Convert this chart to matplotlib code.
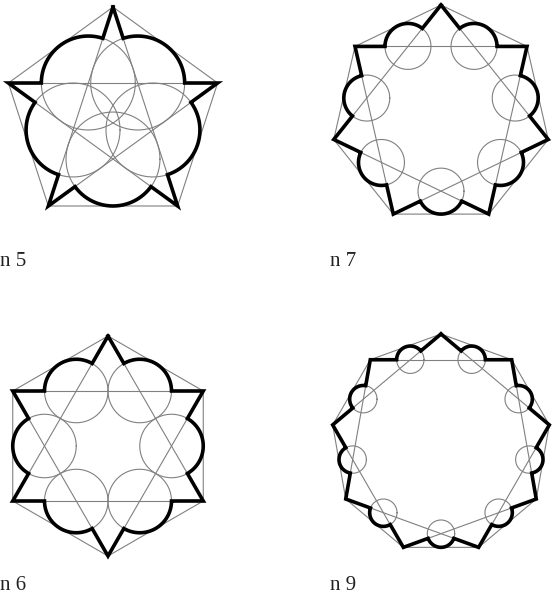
import numpy as np
import matplotlib
matplotlib.use("Agg")
import matplotlib.pyplot as plt

# panel data
N_VALUES = [5, 7, 6, 9]
LABELS = ["n 5", "n 7", "n 6", "n 9"]
CENTERS = [(113, 117), (441, 115), (108, 446), (441, 444)]
LABEL_POS = [(0, 262), (330, 262), (0, 585), (330, 585)]
RADIUS = 110

THIN = dict(color="#808080", lw=0.8)
BOLD = dict(color="black", lw=2.6, solid_joinstyle="miter")


def pt(r, deg):
    a = np.radians(deg)
    return np.array([r * np.cos(a), r * np.sin(a)])


def draw_figure(ax, n, cx, cy, R):
    def tr(p):
        p = np.asarray(p)
        return cx + p[..., 0], cy - p[..., 1]

    V = [pt(R, 90 + 360 * k / n) for k in range(n)]
    r_in = R * np.cos(2 * np.pi / n) / np.cos(np.pi / n)
    rho = R * np.cos(np.pi / n) - r_in
    C = [pt(r_in, 90 + 360 * (k + 0.5) / n) for k in range(n)]

    # outer polygon
    poly = np.array(V + [V[0]])
    ax.plot(*tr(poly), **THIN)
    # star chords
    for k in range(n):
        seg = np.array([V[k], V[(k + 2) % n]])
        ax.plot(*tr(seg), **THIN)
    # circles
    t = np.linspace(0, 2 * np.pi, 200)
    for c in C:
        circ = np.stack([c[0] + rho * np.cos(t), c[1] + rho * np.sin(t)], axis=1)
        ax.plot(*tr(circ), **THIN)

    # bold outline
    path = []
    for k in range(n):
        c = C[k]
        va, vb = V[k], V[(k + 1) % n]
        ua = (va - c) / np.linalg.norm(va - c)
        ub = (vb - c) / np.linalg.norm(vb - c)
        a1 = np.arctan2(ua[1], ua[0])
        a2 = np.arctan2(ub[1], ub[0])
        phi = np.arctan2(c[1], c[0])
        d = (a2 - a1) % (2 * np.pi)
        if (phi - a1) % (2 * np.pi) >= d:
            d = d - 2 * np.pi
        aa = a1 + np.linspace(0, d, 80)
        path.append(va)
        for a in aa:
            path.append(c + rho * np.array([np.cos(a), np.sin(a)]))
    path.append(V[0])
    ax.plot(*tr(np.array(path)), **BOLD)


fig = plt.figure(figsize=(5.55, 5.96), dpi=100)
ax = fig.add_axes([0, 0, 1, 1])
ax.set_xlim(0, 555)
ax.set_ylim(596, 0)
ax.axis("off")

for n, (cx, cy), lab, (lx, ly) in zip(N_VALUES, CENTERS, LABELS, LABEL_POS):
    draw_figure(ax, n, cx, cy, RADIUS)
    ax.text(lx, ly, lab, fontsize=15, family="Liberation Serif",
            ha="left", va="center", color="#222222")

fig.savefig("out.png", dpi=100)
